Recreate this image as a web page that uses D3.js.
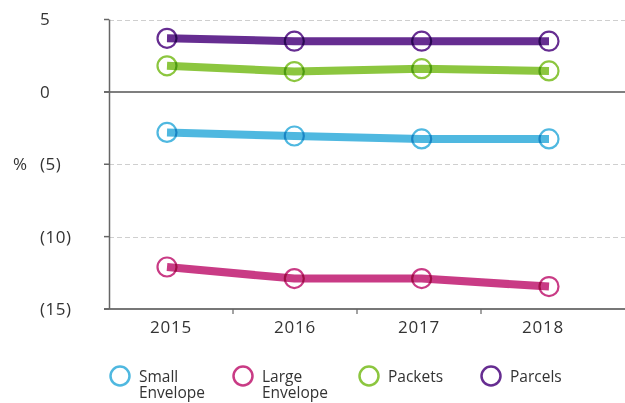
<!DOCTYPE html>
<html>
<head>
<meta charset="utf-8">
<script src="https://cdn.jsdelivr.net/npm/d3@7"></script>
<style>
  html, body { margin: 0; padding: 0; background: #fff; }
  svg { display: block; font-family: "Open Sans", "Noto Sans", sans-serif; }
</style>
</head>
<body>
<svg id="chart" width="625" height="403"></svg>
<script>
const years = ["2015", "2016", "2017", "2018"];
const seriesNames = ["Small Envelope", "Large Envelope", "Packets", "Parcels"];
const seriesColors = ["#4fb8e0", "#c93b85", "#8cc63f", "#662d91"];
const smallEnvelope = [-2.8, -3.05, -3.25, -3.25];
const largeEnvelope = [-12.1, -12.9, -12.9, -13.45];
const packets = [1.8, 1.4, 1.6, 1.45];
const parcels = [3.7, 3.5, 3.5, 3.5];
const yTicks = [5, 0, -5, -10, -15];
const yTickLabels = ["5", "0", "(5)", "(10)", "(15)"];

const seriesValues = [smallEnvelope, largeEnvelope, packets, parcels];

const svg = d3.select("#chart");
const y = d3.scaleLinear().domain([-15, 5]).range([309, 19.5]);
const xBand = d3.scaleBand().domain(years).range([109, 605]);
const xPt = d3.scalePoint().domain(years).range([167, 549]);

// gridlines
svg.append("g").selectAll("line")
  .data(yTicks.filter(d => d !== 0 && d !== -15))
  .join("line")
  .attr("x1", 109).attr("x2", 625)
  .attr("y1", d => Math.round(y(d)) + 0.5).attr("y2", d => Math.round(y(d)) + 0.5)
  .attr("stroke", "#cfcfcf").attr("stroke-width", 1)
  .attr("stroke-dasharray", "5,3");

// zero line
svg.append("line")
  .attr("x1", 104).attr("x2", 625)
  .attr("y1", y(0)).attr("y2", y(0))
  .attr("stroke", "#555").attr("stroke-width", 1.5);

// x axis baseline
svg.append("line")
  .attr("x1", 104).attr("x2", 625)
  .attr("y1", y(-15)).attr("y2", y(-15))
  .attr("stroke", "#777").attr("stroke-width", 1.8);

// y axis line
svg.append("line")
  .attr("x1", 109.5).attr("x2", 109.5)
  .attr("y1", y(5)).attr("y2", y(-15))
  .attr("stroke", "#666").attr("stroke-width", 1.5);

// y ticks
svg.append("g").selectAll("line")
  .data(yTicks)
  .join("line")
  .attr("x1", 104).attr("x2", 109)
  .attr("y1", d => y(d)).attr("y2", d => y(d))
  .attr("stroke", "#666").attr("stroke-width", 1.5);

// x ticks (band boundaries)
svg.append("g").selectAll("line")
  .data(years.slice(1))
  .join("line")
  .attr("x1", d => xBand(d)).attr("x2", d => xBand(d))
  .attr("y1", y(-15)).attr("y2", y(-15) + 5)
  .attr("stroke", "#666").attr("stroke-width", 1.2);

// y tick labels
svg.append("g").selectAll("text")
  .data(yTicks)
  .join("text")
  .attr("x", 40)
  .attr("y", d => y(d))
  .attr("dy", "0.35em")
  .attr("font-size", 17)
  .attr("letter-spacing", 0.5)
  .attr("fill", "#333")
  .text((d, i) => yTickLabels[i]);

svg.append("text")
  .attr("x", 13).attr("y", y(-5)).attr("dy", "0.35em")
  .attr("font-size", 17).attr("fill", "#333")
  .text("%");

// x tick labels
svg.append("g").selectAll("text")
  .data(years)
  .join("text")
  .attr("x", d => xBand(d) + xBand.bandwidth() / 2)
  .attr("y", 333)
  .attr("text-anchor", "middle")
  .attr("font-size", 17)
  .attr("letter-spacing", 0.8)
  .attr("fill", "#333")
  .text(d => d);

// lines and markers
const line = d3.line().x((d, i) => xPt(years[i])).y(d => y(d));
seriesValues.forEach((vals, si) => {
  svg.append("path")
    .attr("d", line(vals))
    .attr("fill", "none")
    .attr("stroke", seriesColors[si])
    .attr("stroke-width", 8)
    .attr("stroke-linecap", "butt");
});
seriesValues.forEach((vals, si) => {
  svg.append("g").selectAll("circle")
    .data(vals)
    .join("circle")
    .attr("cx", (d, i) => xPt(years[i]))
    .attr("cy", d => y(d))
    .attr("r", 9.5)
    .attr("fill", "none")
    .attr("stroke", seriesColors[si])
    .attr("stroke-width", 2.2)
    .style("mix-blend-mode", "multiply");
});

// legend
const legendX = [120, 243, 369, 491];
const legend = svg.append("g").selectAll("g")
  .data(seriesNames)
  .join("g")
  .attr("transform", (d, i) => `translate(${legendX[i]},376)`);
legend.append("circle")
  .attr("r", 9.5)
  .attr("fill", "none")
  .attr("stroke", (d, i) => seriesColors[i])
  .attr("stroke-width", 2.5);
legend.each(function(d) {
  const g = d3.select(this);
  d.split(" ").forEach((w, k) => {
    g.append("text")
      .attr("x", 19)
      .attr("y", 6 + k * 16)
      .attr("font-size", 15.5)
      .attr("fill", "#333")
      .text(w);
  });
});
</script>
</body>
</html>
